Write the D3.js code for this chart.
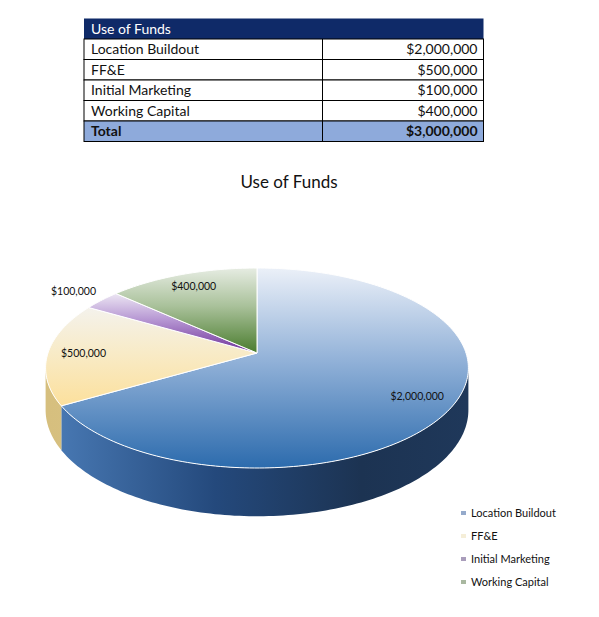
<!DOCTYPE html>
<html>
<head>
<meta charset="utf-8">
<script src="https://cdn.jsdelivr.net/npm/d3@7"></script>
<style>
  body { margin: 0; background: #fff; }
  svg { display: block; }
  text { font-family: Lato, "Open Sans", sans-serif; }
</style>
</head>
<body>
<div id="chart"></div>
<script>
// data
const categories = ["Location Buildout", "FF&E", "Initial Marketing", "Working Capital"];
const amounts = [2000000, 500000, 100000, 400000];
const tableTitle = "Use of Funds";
const chartTitle = "Use of Funds";
const totalLabel = "Total";

// palette: [top light, top mid, top dark, side a, side b, side c, legend]
const palette = [
    ["#ebf0f8", "#94b3d9", "#2c6bad", "#4a7bb6", "#24497c", "#1c3352", "#95aacb"],
    ["#f4f2ec", "#f8ebc8", "#fce09c", "#d6bf7e", "#dcc78c", "#e6d39f", "#f5eed8"],
    ["#ece6f3", "#b595d2", "#6f3199", "#6f3199", "#5a2880", "#4a2068", "#a99dbb"],
    ["#e6ece2", "#a9c19a", "#4a7c2e", "#4a7c2e", "#3d6626", "#33561f", "#a9b8a0"]
];

const W = 599, H = 617;
const fmt = d3.format("$,");

const svg = d3.select("#chart").append("svg")
    .attr("width", W)
    .attr("height", H);

const defs = svg.append("defs");

// ---------- table ----------
const tx0 = 84, tx1 = 483.5, tcol = 322.5;
const headTop = 18.5, headH = 20.5, rowH = 20.5;

const rows = categories.map((c, i) => ({ label: c, value: amounts[i] }));
const total = d3.sum(amounts);
const rowY = d3.scaleLinear().domain([0, 1]).range([headTop + headH, headTop + headH + rowH]);

const table = svg.append("g").attr("class", "table");

table.append("rect")
    .attr("x", tx0).attr("y", headTop)
    .attr("width", tx1 - tx0).attr("height", headH)
    .attr("fill", "#0f2a68");

table.append("text")
    .attr("x", tx0 + 7).attr("y", headTop + 15)
    .attr("fill", "#fff")
    .style("font-size", "14px")
    .text(tableTitle);

const bodyRows = table.selectAll("g.row")
    .data(rows.concat([{ label: totalLabel, value: total, total: true }]))
    .join("g")
    .attr("class", "row")
    .attr("transform", (d, i) => `translate(0,${rowY(i)})`);

bodyRows.append("rect")
    .attr("x", tx0).attr("y", 0)
    .attr("width", tx1 - tx0).attr("height", rowH)
    .attr("fill", d => d.total ? "#8eaadb" : "#fff")
    .attr("stroke", "#000")
    .attr("stroke-width", 1);

bodyRows.append("line")
    .attr("x1", tcol).attr("x2", tcol)
    .attr("y1", 0).attr("y2", rowH)
    .attr("stroke", "#000");

bodyRows.append("text")
    .attr("x", tx0 + 7).attr("y", 15)
    .attr("fill", "#111")
    .style("font-size", "14px")
    .style("font-weight", d => d.total ? "bold" : null)
    .text(d => d.label);

bodyRows.append("text")
    .attr("x", tx1 - 6).attr("y", 15)
    .attr("text-anchor", "end")
    .attr("fill", "#111")
    .style("font-size", "14px")
    .style("font-weight", d => d.total ? "bold" : null)
    .text(d => fmt(d.value));

// ---------- chart title ----------
svg.append("text")
    .attr("x", 289).attr("y", 188)
    .attr("text-anchor", "middle")
    .attr("fill", "#111")
    .style("font-size", "17px")
    .text(chartTitle);

// ---------- 3d pie ----------
const pieCx = 257, pieCy = 353;
const rx = 209, ry = 97.75, persp = 0.15, depth = 41;

// angle a clockwise from 12 o'clock, r = radius fraction, drop = extrusion
function rim(a, r = 1, drop = 0) {
    const X = r * Math.sin(a), Z = r * Math.cos(a);
    const w = 1 + persp * Z;
    return [pieCx + rx * X / w, pieCy - ry * Z / w + drop / w];
}

function arcPoints(a0, a1, drop = 0) {
    const n = Math.max(2, Math.ceil((a1 - a0) / 0.02));
    return d3.range(n + 1).map(k => rim(a0 + (a1 - a0) * k / n, 1, drop));
}

const pie = d3.pie().sort(null).value(d => d.value);
const slices = pie(rows);

const line = d3.line();

slices.forEach((s, i) => {
    const c = palette[i];
    const gt = defs.append("linearGradient")
        .attr("id", "top" + i)
        .attr("x1", 0).attr("y1", 0).attr("x2", 0).attr("y2", 1);
    gt.append("stop").attr("offset", 0).attr("stop-color", c[0]);
    gt.append("stop").attr("offset", 0.45).attr("stop-color", c[1]);
    gt.append("stop").attr("offset", 1).attr("stop-color", c[2]);

    const gs = defs.append("linearGradient")
        .attr("id", "side" + i)
        .attr("gradientUnits", "userSpaceOnUse")
        .attr("x1", pieCx - rx).attr("y1", 0)
        .attr("x2", pieCx + rx).attr("y2", 0);
    gs.append("stop").attr("offset", 0).attr("stop-color", c[3]);
    gs.append("stop").attr("offset", 0.4).attr("stop-color", c[4]);
    gs.append("stop").attr("offset", 0.75).attr("stop-color", c[5]);
    gs.append("stop").attr("offset", 1).attr("stop-color", d3.color(c[5]).brighter(0.25));
});

// visible part of the rim (silhouette under perspective)
const visL = Math.acos(-persp), visR = 2 * Math.PI - visL;

const sides = svg.append("g").attr("class", "sides");
slices.forEach((s, i) => {
    const a0 = Math.max(s.startAngle, visL), a1 = Math.min(s.endAngle, visR);
    if (a1 <= a0) return;
    const topPts = arcPoints(a0, a1, 0);
    const botPts = arcPoints(a0, a1, depth).reverse();
    sides.append("path")
        .attr("d", line(topPts.concat(botPts)) + "Z")
        .attr("fill", `url(#side${i})`);
});

const tops = svg.append("g").attr("class", "tops");
slices.forEach((s, i) => {
    const pts = [rim(0, 0)].concat(arcPoints(s.startAngle, s.endAngle, 0));
    tops.append("path")
        .attr("d", line(pts) + "Z")
        .attr("fill", `url(#top${i})`)
        .attr("stroke", "#fff")
        .attr("stroke-width", 1)
        .attr("stroke-linejoin", "round");
});

// data labels
svg.append("g").attr("class", "labels")
    .selectAll("text")
    .data(slices)
    .join("text")
    .each(function (s) {
        const mid = (s.startAngle + s.endAngle) / 2;
        const r = (s.endAngle - s.startAngle) < 0.35 ? 1.2 : 0.83;
        const p = rim(mid, r);
        d3.select(this).attr("x", p[0]).attr("y", p[1] + 4);
    })
    .attr("text-anchor", "middle")
    .attr("fill", "#111")
    .style("font-size", "10.5px")
    .text(s => fmt(s.data.value));

// legend
const legY = d3.scalePoint().domain(categories).range([513, 582]);
const legend = svg.append("g").attr("class", "legend")
    .selectAll("g")
    .data(categories)
    .join("g")
    .attr("transform", d => `translate(461,${legY(d)})`);

legend.append("rect")
    .attr("x", 0).attr("y", -2)
    .attr("width", 5).attr("height", 4)
    .attr("fill", (d, i) => palette[i][6]);

legend.append("text")
    .attr("x", 10).attr("y", 4)
    .attr("fill", "#111")
    .style("font-size", "11px")
    .text(d => d);
</script>
</body>
</html>
